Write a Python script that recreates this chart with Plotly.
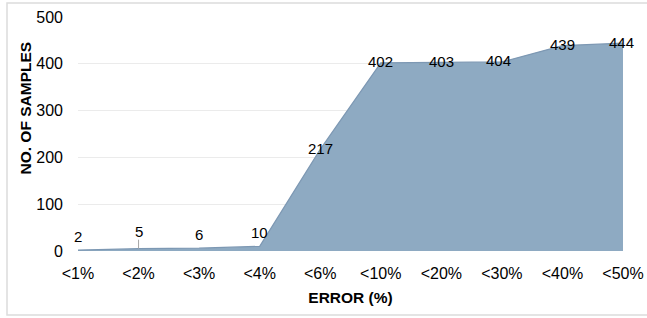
import plotly.graph_objects as go

categories = ["<1%", "<2%", "<3%", "<4%", "<6%", "<10%", "<20%", "<30%", "<40%", "<50%"]
samples = [2, 5, 6, 10, 217, 402, 403, 404, 439, 444]
y_ticks = [0, 100, 200, 300, 400, 500]

FONT = "Liberation Sans, Arial, sans-serif"

fig = go.Figure()
fig.add_trace(go.Scatter(
    x=categories, y=samples,
    mode="lines",
    fill="tozeroy",
    fillcolor="#8eaac2",
    line=dict(color="#7d98b3", width=1.2),
    hoverinfo="skip",
))

# data labels: small values sit above the line, large ones centred on it
label_annotations = []
for i, (c, v) in enumerate(zip(categories, samples)):
    small = v < 50
    label_annotations.append(dict(
        x=c, y=v, xref="x", yref="y",
        text=str(v), showarrow=False,
        xanchor="center", yanchor="middle",
        yshift=(17 if i == 1 else 14) if small else 1,
        xshift=(-3 if i == 7 else -2 if i == 9 else 0),
        font=dict(family=FONT, size=15, color="#000000"),
    ))

fig.update_layout(
    width=647, height=318,
    margin=dict(l=78, r=24, t=17, b=67, autoexpand=False),
    paper_bgcolor="white",
    plot_bgcolor="white",
    showlegend=False,
    font=dict(family=FONT, size=16, color="#000000"),
    xaxis=dict(
        type="category",
        range=[0, len(categories) - 1],
        showgrid=False,
        zeroline=False,
        showline=False,
        ticks="",
        ticklabelstandoff=11,
        tickfont=dict(size=16),
        automargin=False,
        title=dict(text="<b>ERROR (%)</b>", font=dict(size=15.5), standoff=11),
    ),
    yaxis=dict(
        range=[0, 500],
        tickvals=y_ticks,
        showgrid=True,
        gridcolor="#ebebeb",
        gridwidth=1,
        zeroline=False,
        showline=False,
        ticks="",
        ticklabelstandoff=14,
        tickfont=dict(size=16),
        automargin=False,
    ),
    annotations=label_annotations + [dict(
        text="<b>NO. OF SAMPLES</b>",
        textangle=-90,
        xref="paper", yref="paper",
        x=(25 - 78) / 545, y=(251 - 108.5) / 234,
        xanchor="center", yanchor="middle",
        showarrow=False,
        font=dict(size=15.5),
    )],
    shapes=[
        dict(
            type="rect", xref="paper", yref="paper",
            x0=(7 - 78) / 545, x1=1.2,
            y0=(251 - 315) / 234, y1=(251 - 3) / 234,
            line=dict(color="#dcdcdc", width=1.5),
            fillcolor="rgba(0,0,0,0)",
            layer="below",
        ),
        # leader line from the "5" label down to its point
        dict(
            type="line", xref="x", yref="y",
            x0=1, x1=1,
            ysizemode="pixel", yanchor=samples[1], y0=0, y1=9,
            line=dict(color="#a6a6a6", width=1),
        ),
    ],
)

fig.write_html("out.html", config={"displayModeBar": False},
               post_script="document.body.style.margin='0';")
